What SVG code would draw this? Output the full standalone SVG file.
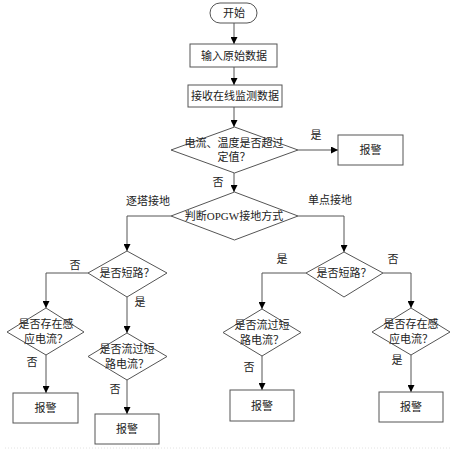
<svg xmlns="http://www.w3.org/2000/svg" width="455" height="450" viewBox="0 0 455 450">
<defs>
<marker id="arr" viewBox="0 0 10 10" refX="10" refY="5" markerWidth="7" markerHeight="7" markerUnits="userSpaceOnUse" orient="auto">
<path d="M0,0 L10,5 L0,10 z" fill="#000"/>
</marker>
<style>
.shape{fill:#fff;stroke:#555;stroke-width:1}
.conn{fill:none;stroke:#555;stroke-width:1}
.conn .a{marker-end:url(#arr)}
text{font-family:"Liberation Serif","Noto Sans CJK SC",serif;font-size:11px;fill:#222;text-anchor:middle;dominant-baseline:central}
</style>
</defs>
<rect width="455" height="450" fill="#fff"/>
<line x1="5" y1="448" x2="450" y2="448" stroke="#e2e2e2" stroke-width="1" stroke-dasharray="1,2"/>
<g id="connectors" class="conn">
<path class="a" d="M234,23 V44"/>
<path class="a" d="M234,67 V85"/>
<path class="a" d="M234,107 V127"/>
<path class="a" d="M298,150 H338"/>
<path class="a" d="M234,173 V192"/>
<path class="a" d="M171,216 H127 V251"/>
<path class="a" d="M88,273 H46 V308"/>
<path class="a" d="M46,355 V393"/>
<path class="a" d="M127,297 V333"/>
<path class="a" d="M127,380 V414"/>
<path class="a" d="M298,216 H344 V252"/>
<path class="a" d="M306,273 H262 V309"/>
<path class="a" d="M262,356 V390"/>
<path class="a" d="M383,273 H411 V308"/>
<path class="a" d="M411,355 V392"/>
</g>
<g id="labels">
<text x="316" y="135">是</text>
<text x="218" y="182">否</text>
<text x="148" y="201">逐塔接地</text>
<text x="330" y="200">单点接地</text>
<text x="75" y="265">否</text>
<text x="140" y="302">是</text>
<text x="32" y="362">否</text>
<text x="115" y="389">否</text>
<text x="282" y="259">是</text>
<text x="393" y="259">否</text>
<text x="249" y="367">否</text>
<text x="397" y="360">是</text>
</g>
<g id="start"><rect class="shape" x="210" y="3" width="47" height="20" rx="10"/><text x="234" y="13">开始</text></g>
<g id="input"><rect class="shape" x="190" y="44" width="87" height="23"/><text x="234" y="55.5">输入原始数据</text></g>
<g id="receive"><rect class="shape" x="188" y="85" width="94" height="22"/><text x="235" y="96">接收在线监测数据</text></g>
<g id="d1"><polygon class="shape" points="234.5,127 298,150 234.5,173 171,150"/><text x="234" y="143">电流、温度是否超过</text><text x="234" y="157">定值？</text></g>
<g id="alarm0"><rect class="shape" x="338" y="135" width="65" height="30"/><text x="370.5" y="150">报警</text></g>
<g id="d2"><polygon class="shape" points="234.5,192 298,216 234.5,240 171,216"/><text x="234" y="216">判断OPGW接地方式</text></g>
<g id="d3"><polygon class="shape" points="127,251 167,273 127,297 88,273"/><text x="127" y="273">是否短路？</text></g>
<g id="d4"><polygon class="shape" points="46,308 84,332 46,355 7,332"/><text x="46" y="324">是否存在感</text><text x="46" y="339">应电流？</text></g>
<g id="alarm1"><rect class="shape" x="13" y="393" width="65" height="30"/><text x="45.5" y="408">报警</text></g>
<g id="d5"><polygon class="shape" points="127,333 167,356.5 127,380 88,356.5"/><text x="127" y="349">是否流过短</text><text x="127" y="364">路电流？</text></g>
<g id="alarm2"><rect class="shape" x="95" y="414" width="64" height="30"/><text x="127" y="429">报警</text></g>
<g id="d6"><polygon class="shape" points="344,252 383,273 344,297 306,273"/><text x="344" y="273">是否短路？</text></g>
<g id="d7"><polygon class="shape" points="262,309 301,332.5 262,356 223,332.5"/><text x="262" y="325">是否流过短</text><text x="262" y="340">路电流？</text></g>
<g id="alarm3"><rect class="shape" x="230" y="390" width="64" height="31"/><text x="262" y="405.5">报警</text></g>
<g id="d8"><polygon class="shape" points="411,308 450,332 411,355 372,332"/><text x="411" y="324">是否存在感</text><text x="411" y="339">应电流？</text></g>
<g id="alarm4"><rect class="shape" x="379" y="392" width="64" height="30"/><text x="411" y="407">报警</text></g>
</svg>
